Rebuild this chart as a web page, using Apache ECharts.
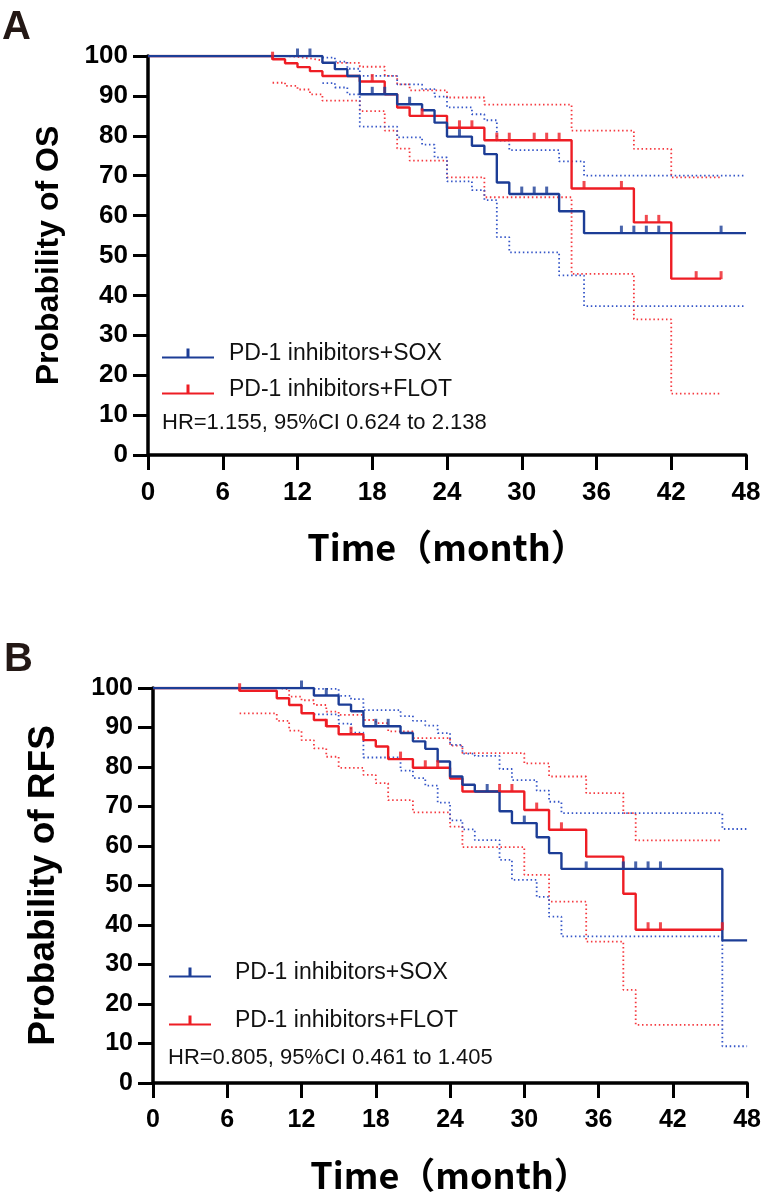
<!DOCTYPE html>
<html>
<head>
<meta charset="utf-8">
<script src="https://cdn.jsdelivr.net/npm/echarts@6/dist/echarts.min.js"></script>
<style>
  html, body { margin: 0; padding: 0; background: #fff; }
  #main { width: 764px; height: 1199px; }
</style>
</head>
<body>
<div id="main"></div>
<script>
// --- data: [month, survival %] at each step ---
const seriesNames = ['PD-1 inhibitors+SOX', 'PD-1 inhibitors+FLOT'];
const monthTicks = [0, 6, 12, 18, 24, 30, 36, 42, 48];

// panel A (OS)
const osSox = [[0,100],[14,98.3],[15,96.7],[16,95.0],[17,90.4],[20,87.9],[22,86.4],[23,83.3],[24,79.8],[26,77.5],[27,75.4],[28,68.3],[29,65.4],[33,61.1],[35,55.6],[48,55.6]];
const osSoxUpper = [[14,99.6],[15,98.6],[16,96.8],[17,95.0],[20,92.9],[22,91.7],[23,89.8],[24,87.1],[26,85.4],[27,83.9],[28,78.8],[29,76.4],[33,73.6],[35,70.0],[48,70.0]];
const osSoxLower = [[14,93.2],[15,92.1],[16,90.4],[17,82.3],[20,79.6],[22,77.8],[23,74.6],[24,68.6],[26,66.4],[27,63.9],[28,54.6],[29,50.8],[33,45.0],[35,37.3],[48,37.3]];
const osSoxCensor = [12, 13, 18, 19, 21, 25, 30, 31, 32, 38, 39, 40, 41, 46];

const osFlot = [[0,100],[10,99.2],[11,98.2],[12,97.2],[13,96.2],[14,95.0],[17,93.6],[19,90.4],[20,87.1],[21,85.0],[24,82.0],[27,78.9],[34,66.8],[39,58.3],[42,44.2],[46,44.2]];
const osFlotUpper = [[10,100],[11,99.8],[12,99.4],[13,98.9],[14,98.3],[17,97.3],[19,95.0],[20,92.9],[21,91.4],[24,89.6],[27,87.8],[34,81.3],[39,76.7],[42,69.6],[46,69.6]];
const osFlotLower = [[10,93.3],[11,92.5],[12,91.6],[13,90.4],[14,88.8],[17,86.2],[19,81.3],[20,76.8],[21,73.8],[24,69.6],[27,64.6],[34,45.4],[39,34.0],[42,15.4],[46,15.4]];
const osFlotCensor = [10, 18, 22, 25, 26, 28, 29, 31, 32, 33, 35, 38, 40, 41, 44, 46];

// panel B (RFS)
const rfsSox = [[0,100],[13,98.1],[15,95.8],[16,94.1],[17,90.3],[20,88.6],[21,86.5],[22,84.6],[23,81.4],[24,77.6],[25,75.5],[26,73.8],[28,68.8],[29,65.8],[31,62.2],[32,58.2],[33,54.2],[46,36.1],[48,36.1]];
const rfsSoxUpper = [[13,99.8],[15,98.0],[16,97.2],[17,94.4],[20,92.9],[21,91.7],[22,90.5],[23,88.6],[24,85.6],[25,83.4],[26,82.8],[28,79.5],[29,76.7],[31,74.0],[32,71.2],[33,68.3],[46,64.3],[48,64.3]];
const rfsSoxLower = [[13,93.3],[15,91.0],[16,88.7],[17,82.4],[20,79.1],[21,77.2],[22,75.3],[23,71.0],[24,66.5],[25,64.2],[26,61.5],[28,56.5],[29,51.4],[31,47.1],[32,42.1],[33,37.1],[46,9.3],[48,9.3]];
const rfsSoxCensor = [12, 14, 18, 19, 27, 30, 35, 38, 39, 40, 41];

const rfsFlot = [[0,100],[7,99.3],[10,97.4],[11,95.7],[12,93.6],[13,91.9],[14,90.3],[15,88.3],[17,86.8],[18,85.2],[19,82.0],[21,79.8],[24,77.1],[25,73.8],[30,69.1],[32,64.1],[35,57.3],[38,47.9],[39,38.8],[46,38.8]];
const rfsFlotUpper = [[7,100],[10,99.7],[11,97.8],[12,96.9],[13,95.7],[14,94.0],[15,93.2],[17,91.9],[18,91.1],[19,89.0],[21,87.3],[24,85.4],[25,83.5],[30,80.9],[32,77.6],[35,73.4],[38,68.3],[39,61.4],[46,61.4]];
const rfsFlotLower = [[7,93.6],[10,91.7],[11,89.2],[12,86.8],[13,84.7],[14,82.6],[15,79.8],[17,78.0],[18,75.9],[19,71.6],[21,68.5],[24,64.9],[25,59.7],[30,52.7],[32,45.9],[35,35.8],[38,23.6],[39,14.7],[46,14.7]];
const rfsFlotCensor = [7, 14, 16, 20, 22, 23, 28, 29, 31, 33, 40, 41, 46];

const BLUE = '#1c3d96';
const BLUE_CI = '#3556c8';
const RED = '#ee1d24';
const RED_CI = '#f5393f';
const FONT = 'Arial, "Liberation Sans", "Helvetica", sans-serif';
const CJK_FONT = '"Noto Sans CJK SC", "Liberation Sans", sans-serif';

// survival value at time t (after any drop at t)
function valueAt(curve, t) {
  let v = curve[0][1];
  curve.forEach(function (p) { if (p[0] <= t) v = p[1]; });
  return v;
}

function kmLine(name, data, color, idx, z) {
  return {
    type: 'line', name: name, xAxisIndex: idx, yAxisIndex: idx,
    data: data, step: 'end', symbol: 'none', z: z,
    lineStyle: { color: color, width: 2.4 },
    itemStyle: { color: color, borderWidth: 0 },
    silent: true
  };
}
function ciLine(name, data, color, idx) {
  return {
    type: 'line', name: name, xAxisIndex: idx, yAxisIndex: idx,
    data: data, step: 'end', symbol: 'none', z: 2,
    lineStyle: { color: color, width: 1.8, type: [1.5, 2.7] },
    silent: true
  };
}
function censorMarks(name, times, curve, color, idx, z) {
  return {
    type: 'scatter', name: name, xAxisIndex: idx, yAxisIndex: idx,
    data: times.map(function (t) { return [t, valueAt(curve, t)]; }),
    symbol: 'rect', symbolSize: [3, 8], symbolOffset: [0, -3.5],
    itemStyle: { color: color }, z: z, silent: true
  };
}

function xAxisFor(idx, labelSize) {
  return {
    type: 'value', gridIndex: idx, min: 0, max: 48, interval: 6,
    axisLine: { show: true, onZero: false, lineStyle: { color: '#000', width: 3.5 } },
    axisTick: { show: true, length: 15, lineStyle: { color: '#000', width: 3 } },
    splitLine: { show: false },
    axisLabel: { fontSize: labelSize, fontWeight: 'bold', color: '#000', margin: 25, fontFamily: FONT },
    name: 'Time（month）', nameLocation: 'middle', nameGap: 74,
    nameTextStyle: { fontSize: 36, fontWeight: 'bold', color: '#000', fontFamily: CJK_FONT }
  };
}
function yAxisFor(idx, title, labelSize, nameSize, nameGap) {
  return {
    type: 'value', gridIndex: idx, min: 0, max: 100, interval: 10,
    axisLine: { show: true, onZero: false, lineStyle: { color: '#000', width: 3.5 } },
    axisTick: { show: true, length: 15, lineStyle: { color: '#000', width: 3 } },
    splitLine: { show: false },
    axisLabel: { fontSize: labelSize, fontWeight: 'bold', color: '#000', margin: 20, fontFamily: FONT },
    name: title, nameLocation: 'middle', nameGap: nameGap,
    nameTextStyle: { fontSize: nameSize, fontWeight: 'bold', color: '#000', fontFamily: FONT }
  };
}

const iconA = 'path://M0,8H52V10.2H0Z M24.5,0H27.5V9H24.5Z';
const iconB = 'path://M0,8H42V10.2H0Z M19.5,0H22.5V9H19.5Z';

const chart = echarts.init(document.getElementById('main'), null, { renderer: 'canvas' });
chart.setOption({
  backgroundColor: '#fff',
  animation: false,
  title: [
    { text: 'A', left: 2, top: 8, padding: 0, textStyle: { fontSize: 40, fontWeight: 'bold', color: '#231815', fontFamily: FONT } },
    { text: 'B', left: 4, top: 640, padding: 0, textStyle: { fontSize: 40, fontWeight: 'bold', color: '#231815', fontFamily: FONT } },
    { text: 'HR=1.155, 95%CI 0.624 to 2.138', left: 162, top: 412, padding: 0, textStyle: { fontSize: 22, fontWeight: 'normal', color: '#111', fontFamily: FONT } },
    { text: 'HR=0.805, 95%CI 0.461 to 1.405', left: 168, top: 1047, padding: 0, textStyle: { fontSize: 22, fontWeight: 'normal', color: '#111', fontFamily: FONT } }
  ],
  legend: [
    {
      data: seriesNames, orient: 'vertical', left: 162, top: 342, padding: 0,
      itemWidth: 52, itemHeight: 10.2, itemGap: 13, icon: iconA, selectedMode: false,
      textStyle: { fontSize: 23, color: '#111', fontFamily: FONT, padding: [14, 0, 0, 10] }
    },
    {
      data: seriesNames, orient: 'vertical', left: 169, top: 961, padding: 0,
      itemWidth: 42, itemHeight: 10.2, itemGap: 25, icon: iconB, selectedMode: false,
      textStyle: { fontSize: 23, color: '#111', fontFamily: FONT, padding: [14, 0, 0, 19] }
    }
  ],
  grid: [
    { left: 148, top: 56, width: 598, height: 399 },
    { left: 153, top: 688, width: 595, height: 395 }
  ],
  xAxis: [xAxisFor(0, 26), xAxisFor(1, 25)],
  yAxis: [
    yAxisFor(0, 'Probability of OS', 26, 32, 83),
    yAxisFor(1, 'Probability of RFS', 25, 37, 91)
  ],
  series: [
    ciLine('OS FLOT upper', osFlotUpper, RED_CI, 0),
    ciLine('OS FLOT lower', osFlotLower, RED_CI, 0),
    ciLine('OS SOX upper', osSoxUpper, BLUE_CI, 0),
    ciLine('OS SOX lower', osSoxLower, BLUE_CI, 0),
    kmLine(seriesNames[1], osFlot, RED, 0, 3),
    kmLine(seriesNames[0], osSox, BLUE, 0, 4),
    censorMarks('OS FLOT censored', osFlotCensor, osFlot, RED, 0, 5),
    censorMarks('OS SOX censored', osSoxCensor, osSox, BLUE, 0, 6),

    ciLine('RFS FLOT upper', rfsFlotUpper, RED_CI, 1),
    ciLine('RFS FLOT lower', rfsFlotLower, RED_CI, 1),
    ciLine('RFS SOX upper', rfsSoxUpper, BLUE_CI, 1),
    ciLine('RFS SOX lower', rfsSoxLower, BLUE_CI, 1),
    kmLine(seriesNames[1], rfsFlot, RED, 1, 3),
    kmLine(seriesNames[0], rfsSox, BLUE, 1, 4),
    censorMarks('RFS FLOT censored', rfsFlotCensor, rfsFlot, RED, 1, 5),
    censorMarks('RFS SOX censored', rfsSoxCensor, rfsSox, BLUE, 1, 6)
  ]
});
</script>
</body>
</html>
